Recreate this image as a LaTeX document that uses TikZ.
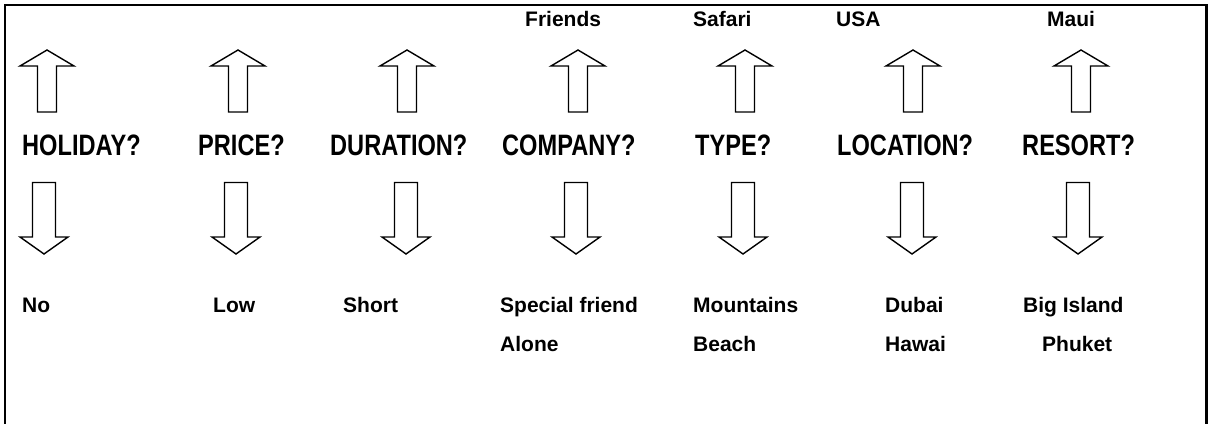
\documentclass[tikz,border=0pt]{standalone}
\usepackage{fontspec}
\setmainfont{Liberation Sans}
\newfontfamily\condfont[FakeStretch=0.80]{Liberation Sans}
\begin{document}
\begin{tikzpicture}[x=1pt,y=-1pt,
  arrowline/.style={draw=black,line width=1.4pt,line join=miter,fill=white},
  bigtext/.style={inner sep=0pt,anchor=base west,font=\condfont\bfseries\fontsize{29.5}{30}\selectfont},
  smalltext/.style={inner sep=0pt,anchor=base west,font=\bfseries\fontsize{21}{23}\selectfont},
  uparrow/.pic={\draw[arrowline] (0,0) -- (27,16) -- (9.5,16) -- (9.5,62) -- (-9.5,62) -- (-9.5,16) -- (-27,16) -- cycle;},
  downarrow/.pic={\draw[arrowline] (0,0) -- (24,-17) -- (11.5,-17) -- (11.5,-71.5) -- (-11.5,-71.5) -- (-11.5,-17) -- (-24,-17) -- cycle;}
]
\useasboundingbox (0,0) rectangle (1209,423);
% frame, open at the lower edge
\begin{scope}
  \clip (0,0) rectangle (1209,423);
  \draw[line width=2.5pt] (5,5) rectangle (1206.5,440);
\end{scope}

% question labels
\node[bigtext] (q1) at (22,155) {HOLIDAY?};
\node[bigtext] (q2) at (198,155) {PRICE?};
\node[bigtext] (q3) at (330,155) {DURATION?};
\node[bigtext] (q4) at (502,155) {COMPANY?};
\node[bigtext] (q5) at (695,155) {TYPE?};
\node[bigtext] (q6) at (837,155) {LOCATION?};
\node[bigtext] (q7) at (1022,155) {RESORT?};

% upward arrows (tip positions)
\pic (u1) at (47,50) {uparrow};
\pic (u2) at (238,50) {uparrow};
\pic (u3) at (407,50) {uparrow};
\pic (u4) at (578,50) {uparrow};
\pic (u5) at (745,50) {uparrow};
\pic (u6) at (913,50) {uparrow};
\pic (u7) at (1081,50) {uparrow};

% downward arrows (tip positions)
\pic (d1) at (44,254) {downarrow};
\pic (d2) at (236,254) {downarrow};
\pic (d3) at (406,254) {downarrow};
\pic (d4) at (576,254) {downarrow};
\pic (d5) at (743,254) {downarrow};
\pic (d6) at (912,254) {downarrow};
\pic (d7) at (1078,254) {downarrow};

% answers above
\node[smalltext] (t4) at (525,27) {Friends};
\node[smalltext] (t5) at (693,27) {Safari};
\node[smalltext] (t6) at (836,27) {USA};
\node[smalltext] (t7) at (1047,27) {Maui};

% answers below, first row
\node[smalltext] (b1) at (22,312) {No};
\node[smalltext] (b2) at (213,312) {Low};
\node[smalltext] (b3) at (343,312) {Short};
\node[smalltext] (b4) at (500,312) {Special friend};
\node[smalltext] (b5) at (693,312) {Mountains};
\node[smalltext] (b6) at (885,312) {Dubai};
\node[smalltext] (b7) at (1023,312) {Big Island};

% answers below, second row
\node[smalltext] (c4) at (500,351) {Alone};
\node[smalltext] (c5) at (693,351) {Beach};
\node[smalltext] (c6) at (885,351) {Hawai};
\node[smalltext] (c7) at (1042,351) {Phuket};
\end{tikzpicture}
\end{document}
